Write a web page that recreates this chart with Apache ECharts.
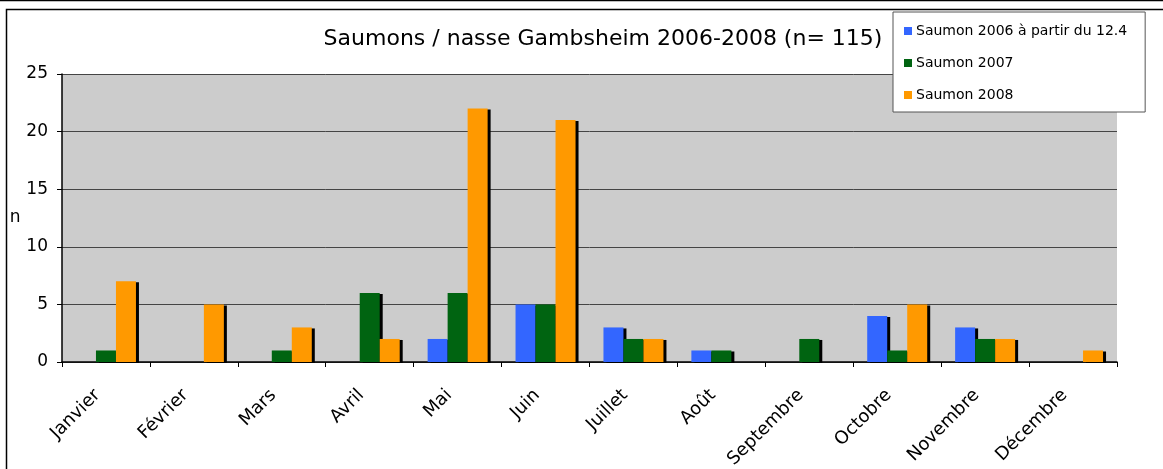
<!DOCTYPE html>
<html>
<head>
<meta charset="utf-8">
<script src="https://cdn.jsdelivr.net/npm/echarts@6/dist/echarts.min.js"></script>
<style>
  html, body { margin: 0; padding: 0; background: #fff; }
  #chart { width: 1163px; height: 469px; }
</style>
</head>
<body>
<div id="chart"></div>
<script>
  // mois
  const months = ['Janvier', 'Février', 'Mars', 'Avril', 'Mai', 'Juin', 'Juillet', 'Août', 'Septembre', 'Octobre', 'Novembre', 'Décembre']
  // captures par année
  const saumon2006 = [0, 0, 0, 0, 2, 5, 3, 1, 0, 4, 3, 0]
  const saumon2007 = [1, 0, 1, 6, 6, 5, 2, 1, 2, 1, 2, 0]
  const saumon2008 = [7, 5, 3, 2, 22, 21, 2, 0, 0, 5, 2, 1]
  const seriesNames = ['Saumon 2006 à partir du 12.4', 'Saumon 2007', 'Saumon 2008']
  const colors = ['#3366ff', '#006411', '#ff9900']

  const font = 'DejaVu Sans, Verdana, sans-serif'
  const chart = echarts.init(document.getElementById('chart'))

  function barSeries(name, data, color) {
    return {
      name: name,
      type: 'bar',
      data: data,
      barWidth: 20,
      barGap: '0%',
      itemStyle: {
        color: color,
        shadowColor: '#000',
        shadowBlur: 0,
        shadowOffsetX: 3,
        shadowOffsetY: 1
      },
      emphasis: { disabled: true }
    }
  }

  chart.setOption({
    animation: false,
    backgroundColor: '#fff',
    title: {
      text: 'Saumons / nasse Gambsheim 2006-2008 (n= 115)',
      left: 598,
      top: 23,
      textAlign: 'center',
      textStyle: { fontFamily: font, fontSize: 22, fontWeight: 'normal', color: '#000' }
    },
    legend: {
      orient: 'vertical',
      left: 893,
      top: 12,
      padding: [12, 18, 10, 11],
      itemGap: 18,
      itemWidth: 8,
      itemHeight: 8,
      icon: 'rect',
      backgroundColor: '#fff',
      borderColor: '#555',
      borderWidth: 1,
      textStyle: { fontFamily: font, fontSize: 14, color: '#000', padding: [0, 0, 0, -1] },
      data: seriesNames
    },
    grid: {
      left: 62,
      right: 46,
      top: 74,
      bottom: 107,
      outerBoundsMode: 'none',
      containLabel: false,
      show: true,
      backgroundColor: '#cccccc',
      borderWidth: 0
    },
    xAxis: {
      type: 'category',
      data: months,
      axisLine: { lineStyle: { color: '#000', width: 1.5 } },
      axisTick: { show: true, length: 5, lineStyle: { color: '#000' } },
      axisLabel: {
        rotate: 45,
        interval: 0,
        margin: 22,
        padding: [0, 12, 0, 0],
        fontFamily: font,
        fontSize: 18,
        color: '#000'
      }
    },
    yAxis: {
      type: 'value',
      min: 0,
      max: 25,
      interval: 5,
      name: 'n',
      nameLocation: 'middle',
      nameRotate: 0,
      nameGap: 41,
      nameTextStyle: { fontFamily: font, fontSize: 17, color: '#000', padding: [0, 0, 24, 0] },
      axisLine: { show: true, lineStyle: { color: '#000', width: 1.5 } },
      axisTick: { show: true, length: 5, lineStyle: { color: '#000' } },
      axisLabel: { fontFamily: font, fontSize: 17, color: '#000', margin: 14 },
      splitLine: { lineStyle: { color: '#444', width: 1 } }
    },
    series: [
      barSeries(seriesNames[0], saumon2006, colors[0]),
      barSeries(seriesNames[1], saumon2007, colors[1]),
      barSeries(seriesNames[2], saumon2008, colors[2])
    ],
    graphic: [
      {
        type: 'rect',
        shape: { x: 6.5, y: 9.5, width: 1160, height: 465 },
        style: { fill: null, stroke: '#000', lineWidth: 1.5 },
        z: 100
      },
      {
        type: 'line',
        shape: { x1: 0, y1: 0.5, x2: 1163, y2: 0.5 },
        style: { stroke: '#000', lineWidth: 1.5 },
        z: 100
      }
    ]
  })
</script>
</body>
</html>
